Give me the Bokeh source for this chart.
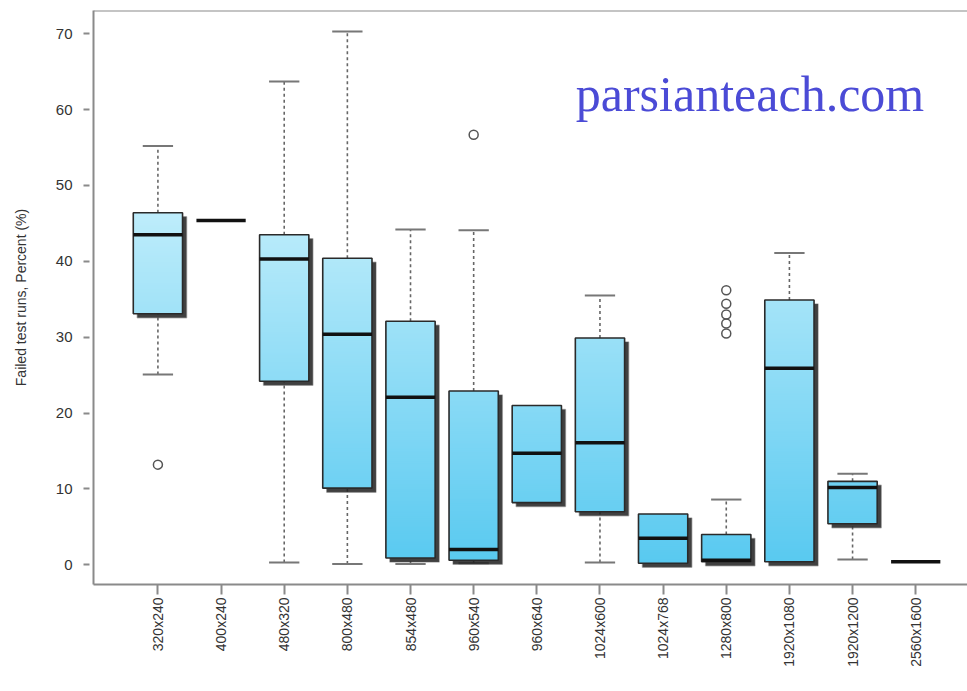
import numpy as np
from bokeh.plotting import figure
from bokeh.models import FixedTicker, Span, Label
from bokeh.embed import file_html
from bokeh.resources import INLINE

# Screen resolutions and box-plot statistics of failed test runs (%)
categories = ["320x240", "400x240", "480x320", "800x480", "854x480", "960x540",
              "960x640", "1024x600", "1024x768", "1280x800", "1920x1080",
              "1920x1200", "2560x1600"]
lower_whisker = [25.1, 45.4, 0.3, 0.1, 0.1, 0.2, 8.2, 0.3, 0.2, 0.4, 0.4, 0.7, 0.4]
q1 = [33.1, 45.4, 24.2, 10.1, 0.9, 0.6, 8.2, 7.0, 0.2, 0.4, 0.4, 5.4, 0.4]
medians = [43.5, 45.4, 40.3, 30.4, 22.1, 2.0, 14.7, 16.1, 3.5, 0.6, 25.9, 10.2, 0.4]
q3 = [46.4, 45.4, 43.5, 40.4, 32.1, 22.9, 21.0, 29.9, 6.7, 4.0, 34.9, 11.0, 0.4]
upper_whisker = [55.2, 45.4, 63.7, 70.3, 44.2, 44.1, 21.0, 35.5, 6.7, 8.6, 41.1, 12.0, 0.4]

# outliers: (category index, value)
outlier_cat = [1, 6, 10, 10, 10, 10, 10]
outlier_val = [13.2, 56.7, 36.2, 34.4, 33.0, 31.8, 30.5]

y_ticks = [0, 10, 20, 30, 40, 50, 60, 70]

# ---- layout -------------------------------------------------------------
W, H = 967, 691
B_LEFT, B_RIGHT, B_TOP, B_BOTTOM = 93, 0, 10, 107
x_start, x_end = -0.02, 13.82
y_start, y_end = -2.6, 73.07
frame_w = W - B_LEFT - B_RIGHT
frame_h = H - B_TOP - B_BOTTOM
px_x = frame_w / (x_end - x_start)
px_y = frame_h / (y_end - y_start)

half_box = 0.39
half_cap = 0.24
shadow_dx = 4 / px_x
shadow_dy = 4 / px_y

FRAME = "#8a8a8a"
TEXT = "#333333"

p = figure(width=W, height=H, x_range=(x_start, x_end), y_range=(y_start, y_end),
           output_backend="svg", toolbar_location=None,
           min_border_left=B_LEFT, min_border_right=B_RIGHT,
           min_border_top=B_TOP, min_border_bottom=B_BOTTOM)
p.outline_line_color = None
p.grid.visible = False
p.background_fill_color = "white"
p.border_fill_color = "white"

xs = np.arange(1, len(categories) + 1)

# ---- whiskers and staples ------------------------------------------------
wx, wy0, wy1 = [], [], []
cx0, cx1, cy = [], [], []
for x, lo, a, b, hi in zip(xs, lower_whisker, q1, q3, upper_whisker):
    if hi > b:
        wx.append(x); wy0.append(b); wy1.append(hi)
        cx0.append(x - half_cap); cx1.append(x + half_cap); cy.append(hi)
    if lo < a:
        wx.append(x); wy0.append(lo); wy1.append(a)
        cx0.append(x - half_cap); cx1.append(x + half_cap); cy.append(lo)
p.segment(x0=wx, y0=wy0, x1=wx, y1=wy1, line_color="#666666",
          line_width=1.6, line_dash="3 3")
p.segment(x0=cx0, y0=cy, x1=cx1, y1=cy, line_color="#777777", line_width=2)

# ---- box shadows ---------------------------------------------------------
sl, sr, sb, st = [], [], [], []
for x, a, b in zip(xs, q1, q3):
    if b > a:
        sl.append(x - half_box + shadow_dx); sr.append(x + half_box + shadow_dx)
        sb.append(a - shadow_dy); st.append(b - shadow_dy)
p.quad(left=sl, right=sr, bottom=sb, top=st, fill_color="#1e1e1e",
       fill_alpha=0.85, line_color="#555555", line_alpha=0.4, line_width=1.5)

# ---- box bodies, shaded from deep sky blue (low) to pale blue (high) ----
c_low = np.array([0x58, 0xc9, 0xf0])
c_high = np.array([0xbf, 0xed, 0xfb])
v_high = 47.0


def shade(v):
    t = min(max(v / v_high, 0.0), 1.0)
    r, g, b = (c_low + (c_high - c_low) * t).round().astype(int)
    return f"#{r:02x}{g:02x}{b:02x}"


# each band overlaps the next one so no seams show between bands
gl, gr, gb, gt, gc = [], [], [], [], []
step = 0.25
for x, a, b in zip(xs, q1, q3):
    if b <= a:
        continue
    edges = list(np.arange(a, b, step)) + [b]
    for e0, e1 in zip(edges[:-1], edges[1:]):
        gl.append(x - half_box); gr.append(x + half_box)
        gb.append(e0); gt.append(min(e1 + step, b))
        gc.append(shade((e0 + e1) / 2))
p.quad(left=gl, right=gr, bottom=gb, top=gt, fill_color=gc, line_color=None)

bl = [x - half_box for x, a, b in zip(xs, q1, q3) if b > a]
br = [x + half_box for x, a, b in zip(xs, q1, q3) if b > a]
bb = [a for a, b in zip(q1, q3) if b > a]
bt = [b for a, b in zip(q1, q3) if b > a]
p.quad(left=bl, right=br, bottom=bb, top=bt, fill_color=None,
       line_color="#2a2a2a", line_width=1.6)

# ---- medians -------------------------------------------------------------
p.segment(x0=xs - half_box, y0=medians, x1=xs + half_box, y1=medians,
          line_color="#111111", line_width=3.5)

# ---- outliers ------------------------------------------------------------
p.scatter(x=outlier_cat, y=outlier_val, marker="circle", size=9,
          fill_color=None, line_color="#555555", line_width=1.5)

# ---- axes ----------------------------------------------------------------
xa = p.xaxis[0]
xa.ticker = FixedTicker(ticks=list(xs))
xa.major_label_overrides = {int(i): c for i, c in zip(xs, categories)}
xa.major_label_orientation = np.pi / 2
xa.major_label_text_font = "Liberation Sans"
xa.major_label_text_font_size = "14px"
xa.major_label_text_color = TEXT
xa.major_label_standoff = 3
xa.major_tick_in = 0
xa.major_tick_out = 10
xa.minor_tick_line_color = None
xa.major_tick_line_color = FRAME
xa.major_tick_line_width = 2
xa.axis_line_color = FRAME
xa.axis_line_width = 2

ya = p.yaxis[0]
ya.ticker = FixedTicker(ticks=y_ticks)
ya.major_label_text_font = "Liberation Sans"
ya.major_label_text_font_size = "15px"
ya.major_label_text_color = TEXT
ya.major_label_standoff = 11
ya.major_tick_in = -4
ya.major_tick_out = 10
ya.minor_tick_line_color = None
ya.major_tick_line_color = FRAME
ya.major_tick_line_width = 2
ya.axis_line_color = FRAME
ya.axis_line_width = 2
ya.axis_label = "Failed test runs, Percent (%)"
ya.axis_label_text_font = "Liberation Sans"
ya.axis_label_text_font_size = "14px"
ya.axis_label_text_font_style = "normal"
ya.axis_label_text_color = TEXT
ya.axis_label_standoff = 24

p.add_layout(Span(location=y_end, dimension="width", line_color=FRAME,
                  line_width=2))

# ---- site name -----------------------------------------------------------
p.add_layout(Label(x=7.617, y=62.1, text="parsianteach.com",
                   text_font="Liberation Serif", text_font_size="50px",
                   text_color="#4b4bd6", text_baseline="alphabetic"))

open("out.html", "w").write(file_html(p, INLINE))
